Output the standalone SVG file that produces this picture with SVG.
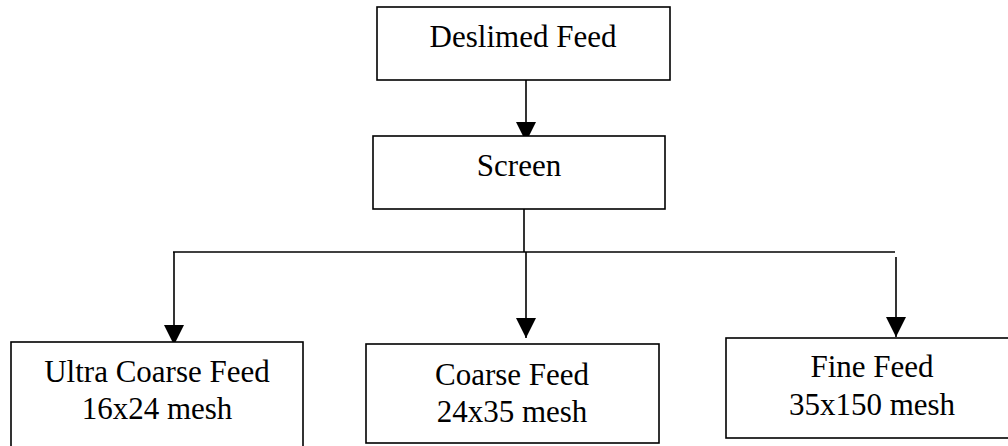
<svg xmlns="http://www.w3.org/2000/svg" width="1008" height="446" viewBox="0 0 1008 446">
  <style>
    .box { fill: #fff; stroke: #000; stroke-width: 1.6; }
    .lbl { font-family: "Liberation Serif", "Times New Roman", serif; font-size: 31px; fill: #000; text-anchor: middle; }
    .wire { fill: none; stroke: #000; stroke-width: 1.6; }
  </style>
  <defs>
    <marker id="head" markerUnits="userSpaceOnUse" markerWidth="20" markerHeight="20" refX="20" refY="10" orient="auto">
      <path d="M0,0 L20,10 L0,20 Z" fill="#000"/>
    </marker>
  </defs>
  <rect width="1008" height="446" fill="#fff"/>

  <g id="connectors">
    <line class="wire" x1="526" y1="80" x2="526" y2="142" marker-end="url(#head)"/>
    <line class="wire" x1="524" y1="209" x2="524" y2="252"/>
    <line class="wire" x1="173" y1="252" x2="895" y2="252"/>
    <line class="wire" x1="174" y1="252" x2="174" y2="345" marker-end="url(#head)"/>
    <line class="wire" x1="526" y1="252" x2="526" y2="338" marker-end="url(#head)"/>
    <line class="wire" x1="896" y1="257" x2="896" y2="337" marker-end="url(#head)"/>
  </g>

  <g id="deslimed-feed">
    <rect class="box" x="377" y="7" width="293" height="73"/>
    <text class="lbl" x="523" y="47">Deslimed Feed</text>
  </g>

  <g id="screen">
    <rect class="box" x="373" y="136" width="292" height="73"/>
    <text class="lbl" x="519" y="176">Screen</text>
  </g>

  <g id="ultra-coarse-feed">
    <rect class="box" x="11" y="342" width="292" height="120"/>
    <text class="lbl" x="157" y="382">Ultra Coarse Feed</text>
    <text class="lbl" x="157" y="419">16x24 mesh</text>
  </g>

  <g id="coarse-feed">
    <rect class="box" x="366" y="344" width="293" height="99"/>
    <text class="lbl" x="512" y="385">Coarse Feed</text>
    <text class="lbl" x="512" y="422">24x35 mesh</text>
  </g>

  <g id="fine-feed">
    <rect class="box" x="726" y="338" width="300" height="100"/>
    <text class="lbl" x="872" y="377">Fine Feed</text>
    <text class="lbl" x="872" y="415">35x150 mesh</text>
  </g>
</svg>
